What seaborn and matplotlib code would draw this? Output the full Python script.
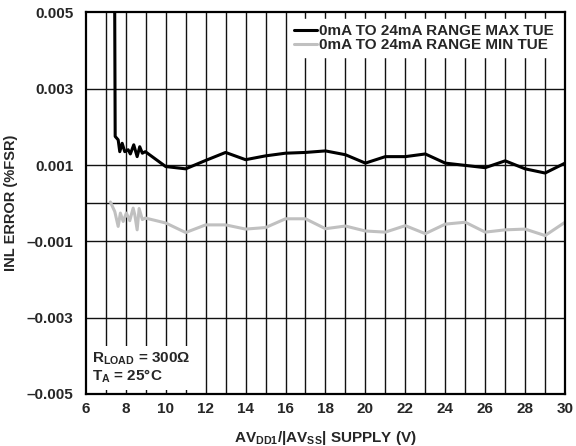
import numpy as np
import matplotlib
matplotlib.use('Agg')
import matplotlib.pyplot as plt
import seaborn as sns
import pandas as pd

# ========================================================================
# data (supply voltage in V, INL error in %FSR)
v_max = [7.44, 7.47, 7.62, 7.70, 7.82, 7.95, 8.12, 8.23, 8.40, 8.57, 8.70, 8.83, 8.98,
         10, 11, 12, 13, 14, 15, 16, 17, 18, 19, 20, 21, 22, 23, 24, 25, 26, 27, 28, 29, 30]
inl_max = [0.0060, 0.00175, 0.00166, 0.00135, 0.00157, 0.00135, 0.00140, 0.00129, 0.00153,
           0.00122, 0.00148, 0.00131, 0.00135,
           0.00096, 0.00090, 0.00112, 0.00133, 0.00114, 0.00124, 0.00131, 0.00133, 0.00137,
           0.00127, 0.00105, 0.00122, 0.00122, 0.00129, 0.00105, 0.00099, 0.00093, 0.00111,
           0.00090, 0.00079, 0.00105]
v_min = [7.23, 7.45, 7.62, 7.73, 7.87, 8.03, 8.20, 8.37, 8.45, 8.57, 8.67, 8.83, 8.98,
         10, 11, 12, 13, 14, 15, 16, 17, 18, 19, 20, 21, 22, 23, 24, 25, 26, 27, 28, 29, 30]
inl_min = [0.00003, -0.00022, -0.00061, -0.00026, -0.00048, -0.00026, -0.00046, -0.00013,
           -0.00030, -0.00070, -0.00014, -0.00043, -0.00039,
           -0.00052, -0.00077, -0.00057, -0.00057, -0.00068, -0.00064, -0.00041, -0.00041,
           -0.00067, -0.00060, -0.00073, -0.00076, -0.00059, -0.00080, -0.00055, -0.00050,
           -0.00076, -0.00070, -0.00068, -0.00085, -0.00050]
x_ticks = [6, 8, 10, 12, 14, 16, 18, 20, 22, 24, 26, 28, 30]
y_ticks = [-0.005, -0.003, -0.001, 0.001, 0.003, 0.005]
y_labels = ['\u20130.005', '\u20130.003', '\u20130.001', '0.001', '0.003', '0.005']
label_max = '0mA TO 24mA RANGE MAX TUE'
label_min = '0mA TO 24mA RANGE MIN TUE'

# ========================================================================
sns.set_style('white')
plt.rcParams['font.family'] = ['Liberation Sans', 'DejaVu Sans']
plt.rcParams['font.weight'] = 'bold'
plt.rcParams['mathtext.fontset'] = 'custom'
plt.rcParams['mathtext.rm'] = 'Liberation Sans:bold'
plt.rcParams['mathtext.it'] = 'Liberation Sans:bold'
plt.rcParams['mathtext.bf'] = 'Liberation Sans:bold'

df_max = pd.DataFrame({'v': v_max, 'inl': inl_max})
df_min = pd.DataFrame({'v': v_min, 'inl': inl_min})

fig = plt.figure(figsize=(5.76, 4.46), dpi=100)
ax = fig.add_axes([0.149, 0.117, 0.832, 0.855])

# grid: every volt, and at 0 / odd thousandths
for v in range(7, 30):
    ax.axvline(v, color='#111111', lw=1.0, zorder=1)
for g in [-0.003, -0.001, 0, 0.001, 0.003]:
    ax.axhline(g, color='#111111', lw=1.0, zorder=1)

sns.lineplot(data=df_max, x='v', y='inl', color='black', lw=2.2, label=label_max,
             sort=False, ax=ax, zorder=3)
sns.lineplot(data=df_min, x='v', y='inl', color='#c0c0c0', lw=2.2, label=label_min,
             sort=False, ax=ax, zorder=3)

ax.set_xlim(6, 30)
ax.set_ylim(-0.005, 0.005)
ax.set_xticks(x_ticks)
ax.set_yticks(y_ticks)
ax.set_yticklabels(y_labels)
ax.tick_params(axis='both', length=0, labelsize=11)
ax.tick_params(axis='x', pad=6)
ax.tick_params(axis='y', pad=9)
for lab in ax.get_xticklabels() + ax.get_yticklabels():
    lab.set_fontweight('bold')
for s in ax.spines.values():
    s.set_linewidth(1.6)
    s.set_color('black')
    s.set_zorder(5)

ax.set_xlabel(r'AV$_{DD1}$/|AV$_{SS}$| SUPPLY (V)', fontsize=11, fontweight='bold', labelpad=9)
ax.set_ylabel('INL ERROR (%FSR)', fontsize=10.5, fontweight='bold')
ax.yaxis.set_label_coords(-0.142, 0.5)

leg = ax.legend(loc='upper right', frameon=True, fontsize=11, handlelength=1.5,
                handletextpad=0.1, borderaxespad=0.45, labelspacing=0.0, borderpad=0.3,
                fancybox=False, framealpha=1.0, edgecolor='white')
for t in leg.get_texts():
    t.set_fontweight('bold')
leg.set_zorder(4)

ax.text(0.013, 0.022, 'R$_{LOAD}$ = 300\u03a9\nT$_A$ = 25\u00b0C', transform=ax.transAxes,
        fontsize=11, fontweight='bold', va='bottom', ha='left', zorder=4, linespacing=1.1,
        bbox=dict(facecolor='white', edgecolor='none', pad=3))

plt.savefig('out.png', dpi=100)
